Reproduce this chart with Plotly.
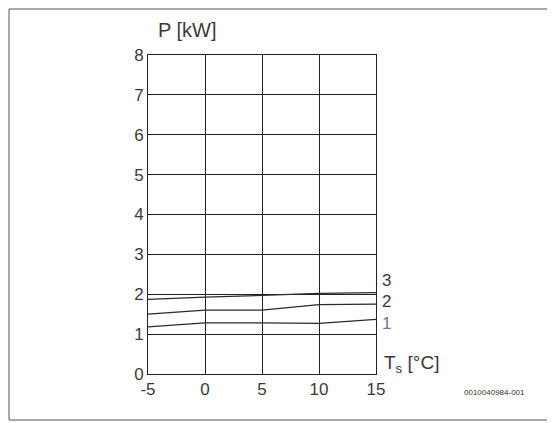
import plotly.graph_objects as go

temps = [-5, 0, 5, 10, 15]
curve1 = [1.18, 1.28, 1.28, 1.27, 1.37]
curve2 = [1.50, 1.60, 1.60, 1.74, 1.75]
curve3 = [1.87, 1.93, 1.97, 2.02, 2.04]
x_ticks = [-5, 0, 5, 10, 15]
y_ticks = [0, 1, 2, 3, 4, 5, 6, 7, 8]
curve_names = ["1", "2", "3"]

fig = go.Figure()
for vals, name in zip([curve1, curve2, curve3], curve_names):
    fig.add_trace(go.Scatter(x=temps, y=vals, mode="lines", name=name,
                             line=dict(color="#2a2a2a", width=1.3), showlegend=False))

fam = "Liberation Sans, Arial"
font = dict(family=fam, size=17, color="#3a3a3a")

fig.update_layout(
    width=547, height=415,
    margin=dict(l=140, r=179, t=47, b=49),
    paper_bgcolor="white", plot_bgcolor="white",
    font=font,
    xaxis=dict(range=[-5, 15], tickvals=x_ticks, ticktext=[str(v) for v in x_ticks],
               showgrid=True, gridcolor="#222", gridwidth=1, zeroline=False,
               showline=True, linecolor="#222", mirror=True, ticks="", ticklen=0),
    yaxis=dict(range=[0, 8], tickvals=y_ticks, ticktext=[str(v) for v in y_ticks],
               showgrid=True, gridcolor="#222", gridwidth=1, zeroline=False,
               showline=True, linecolor="#222", mirror=True, ticks="", ticklen=0),
    shapes=[dict(type="rect", xref="paper", yref="paper",
                 x0=-139/228, x1=1 + 178/228,
                 y0=-46/319, y1=1 + 46/319, line=dict(color="#555", width=1))],
)

ann = [
    dict(v=curve3[-1], text="3", yshift=12, color="#3a3a3a"),
    dict(v=curve2[-1], text="2", yshift=3, color="#3a3a3a"),
    dict(v=curve1[-1], text="1", yshift=-4, color="#6a7a90"),
]
for a in ann:
    fig.add_annotation(x=15, y=a["v"], xref="x", yref="y", text=a["text"],
                       showarrow=False, xanchor="left", xshift=4, yshift=a["yshift"],
                       font=dict(family=fam, size=17, color=a["color"]))

fig.add_annotation(x=15, y=0, xref="x", yref="y", text="T<sub>s</sub> [°C]",
                   showarrow=False, xanchor="left", yanchor="bottom", xshift=6, yshift=-4,
                   font=dict(family=fam, size=19, color="#3a3a3a"))
fig.add_annotation(x=0.175, y=1, xref="paper", yref="paper", text="P [kW]",
                   showarrow=False, xanchor="center", yanchor="bottom", yshift=12,
                   font=dict(family=fam, size=20, color="#3a3a3a"))
fig.add_annotation(x=1, y=0, xref="paper", yref="paper", text="0010040984-001",
                   showarrow=False, xanchor="left", yanchor="top", xshift=86, yshift=-12,
                   font=dict(family=fam, size=8, color="#333333"))

fig.write_html("out.html")
